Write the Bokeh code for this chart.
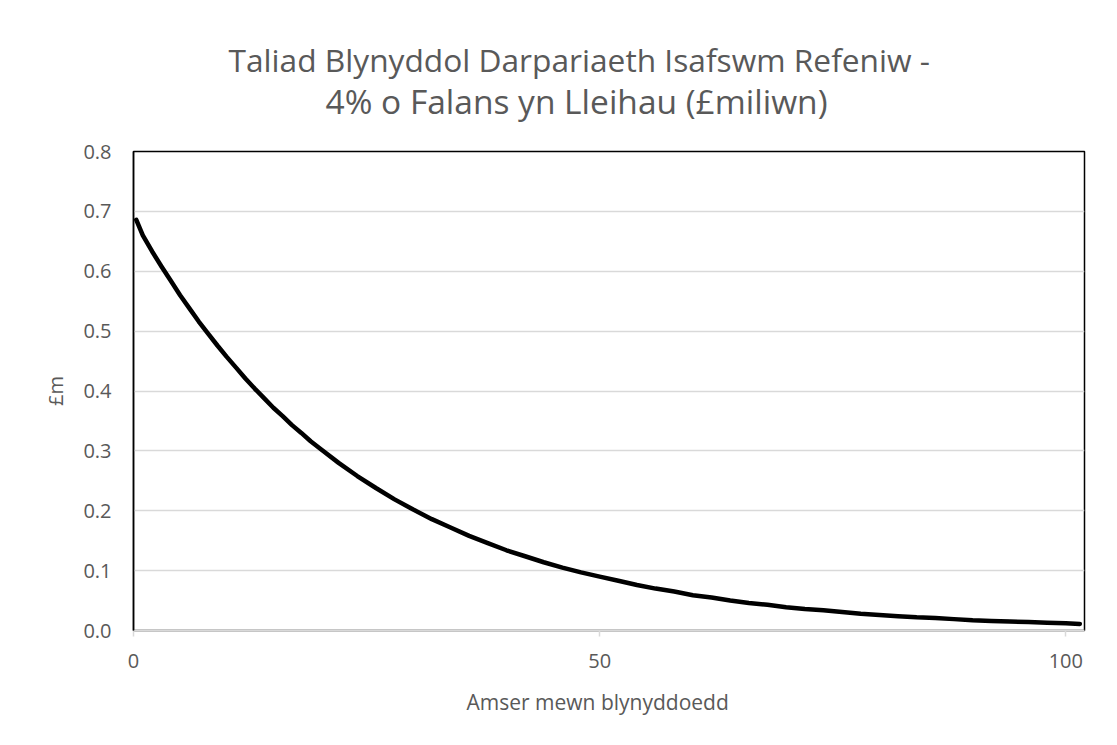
from bokeh.plotting import figure
from bokeh.models import Range1d, FixedTicker, Title, NumeralTickFormatter
from bokeh.embed import file_html
from bokeh.resources import INLINE

# Data
years = [0.3, 1, 2, 3, 4, 5, 6, 7, 8, 9, 10, 11, 12, 13, 14, 15, 16, 17, 18, 19, 20,
         22, 24, 26, 28, 30, 32, 34, 36, 38,
         40, 42, 44, 46, 48, 50, 52, 54, 56, 58, 60, 62, 64, 66, 68, 70, 72, 74, 76, 78,
         80, 82, 84, 86, 88, 90, 92, 94, 96, 98, 100, 101.5]
payment = [0.686, 0.660, 0.633, 0.608, 0.584, 0.560, 0.538, 0.516, 0.496, 0.476, 0.457,
           0.439, 0.421, 0.404, 0.388, 0.372, 0.358, 0.343, 0.330, 0.316, 0.304,
           0.280, 0.258, 0.238, 0.219, 0.202, 0.186, 0.172, 0.158, 0.146, 0.134, 0.124,
           0.114, 0.105, 0.097, 0.090, 0.083, 0.076, 0.070, 0.065, 0.059, 0.055, 0.050,
           0.046, 0.043, 0.039, 0.036, 0.034, 0.031, 0.028, 0.026, 0.024, 0.022, 0.021,
           0.019, 0.017, 0.016, 0.015, 0.014, 0.013, 0.012, 0.011]
x_ticks = [0, 50, 100]
y_ticks = [0.0, 0.1, 0.2, 0.3, 0.4, 0.5, 0.6, 0.7, 0.8]
title_lines = ["Taliad Blynyddol Darpariaeth Isafswm Refeniw -", "4% o Falans yn Lleihau (£miliwn)"]
x_label = "Amser mewn blynyddoedd"
y_label = "£m"

FONT = "Open Sans"
TXT = "#595959"
GRID = "#d9d9d9"

p = figure(width=1109, height=737, output_backend="svg", toolbar_location=None,
           x_range=Range1d(0, 102), y_range=Range1d(0, 0.8),
           min_border_left=133, min_border_right=25, min_border_top=151, min_border_bottom=107)

p.line(years, payment, line_color="black", line_width=4.5, line_cap="round", line_join="round")

# titles (second line added first so it sits nearer the frame)
t2 = Title(text=title_lines[1], align="left", offset=192, text_font=FONT, text_font_size="33.5px",
           text_font_style="normal", text_color=TXT, standoff=55)
t1 = Title(text=title_lines[0], align="left", offset=95, text_font=FONT, text_font_size="31.7px",
           text_font_style="normal", text_color=TXT, standoff=-64)
p.add_layout(t2, "above")
p.add_layout(t1, "above")

# x axis title
p.add_layout(Title(text=x_label, align="left", offset=333, text_font=FONT, text_font_size="21px",
                   text_font_style="normal", text_color=TXT, standoff=31), "below")

p.outline_line_color = "black"
p.outline_line_width = 1.5

xa = p.xaxis[0]
xa.ticker = FixedTicker(ticks=x_ticks)
xa.axis_line_color = GRID
xa.axis_line_width = 1.5
xa.major_tick_line_color = GRID
xa.major_tick_line_width = 1.5
xa.major_tick_in = 0
xa.major_tick_out = 6
xa.minor_tick_line_color = None
xa.major_label_text_font = FONT
xa.major_label_text_font_size = "20px"
xa.major_label_text_color = TXT
xa.major_label_standoff = 17

ya = p.yaxis[0]
ya.ticker = FixedTicker(ticks=y_ticks)
ya.formatter = NumeralTickFormatter(format="0.0")
ya.axis_line_color = "black"
ya.axis_line_width = 1.5
ya.major_tick_line_color = None
ya.minor_tick_line_color = None
ya.major_tick_out = 0
ya.major_tick_in = 0
ya.major_label_text_font = FONT
ya.major_label_text_font_size = "20px"
ya.major_label_text_color = TXT
ya.major_label_standoff = 22
ya.axis_label = y_label
ya.axis_label_text_font = FONT
ya.axis_label_text_font_size = "20px"
ya.axis_label_text_font_style = "normal"
ya.axis_label_text_color = TXT
ya.axis_label_standoff = 11

p.xgrid.grid_line_color = None
p.ygrid.ticker = FixedTicker(ticks=y_ticks[1:-1])
p.ygrid.grid_line_color = GRID
p.ygrid.grid_line_width = 1.5

open("out.html", "w").write(file_html(p, INLINE))
